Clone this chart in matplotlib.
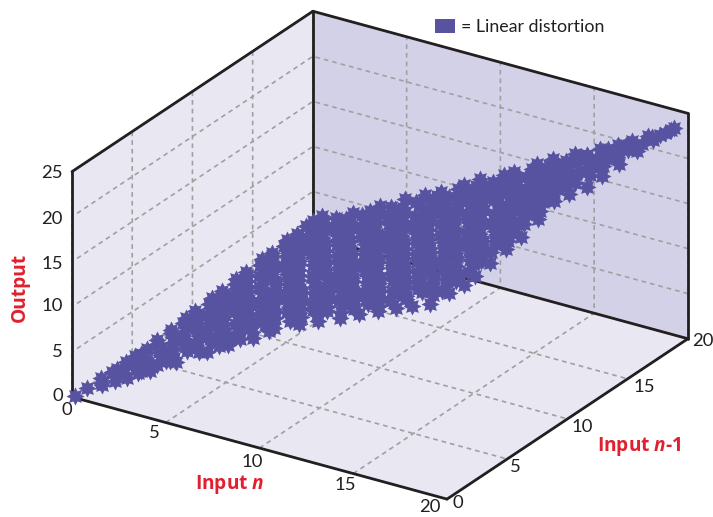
import matplotlib
matplotlib.use("Agg")
import matplotlib.pyplot as plt
from matplotlib.markers import MarkerStyle
from matplotlib.patches import Patch
from matplotlib.path import Path
from mpl_toolkits.mplot3d import proj3d

W, H = 713, 517

# Values, one source line per row of the cloud
input_n = [
    0.1,
    0.4, 1.1,
    0.7, 1.4, 2.1,
    1.1, 1.8, 2.5, 3.1,
    1.5, 2.2, 2.9, 3.7,
    1.8, 2.5, 3.2, 3.9, 4.5,
    1.9, 2.6, 3.4, 4.0, 4.7, 5.5, 6.0,
    2.2, 2.9, 3.6, 4.4, 5.0, 5.7, 6.4, 7.1, 7.7,
    2.4, 3.1, 3.8, 4.5, 5.3, 5.9, 6.6, 7.3, 8.1, 8.7, 9.4,
    2.6, 3.3, 4.0, 4.8, 5.4, 6.1, 6.8, 7.6, 8.2, 8.9, 9.6, 10.4, 11.0, 11.7, 12.4,
    2.9, 3.6, 4.3, 5.0, 5.7, 6.5, 7.1, 7.8, 8.5, 9.3, 9.9, 10.6, 11.3, 12.0, 12.8, 13.4, 14.1, 14.8,
    3.1, 3.8, 4.5, 5.2, 6.0, 6.6, 7.3, 8.0, 8.8, 9.4, 10.1, 10.8, 11.5, 12.3, 12.9, 13.6, 14.3, 15.0,
    3.3, 4.0, 4.7, 5.5, 6.1, 6.8, 7.5, 8.3, 8.9, 9.6, 10.3, 11.1, 11.7, 12.4, 13.1, 13.9, 14.5, 15.3,
    3.5, 4.3, 4.9, 5.6, 6.3, 7.1, 7.7, 8.4, 9.1, 9.9, 10.5, 11.2, 11.9, 12.7, 13.3, 14.0, 14.7, 15.5,
    3.8, 4.5, 5.2, 5.9, 6.7, 7.3, 8.0, 8.7, 9.5, 10.1, 10.8, 11.5, 12.3, 12.9, 13.6, 14.3, 15.0, 15.6,
    4.0, 4.7, 5.4, 6.2, 6.8, 7.5, 8.2, 9.0, 9.6, 10.3, 11.0, 11.8, 12.4, 13.1, 13.8, 14.6, 15.2, 15.8,
    4.2, 4.9, 5.7, 6.3, 7.0, 7.7, 8.5, 9.1, 9.8, 10.5, 11.3, 11.9, 12.6, 13.3, 14.1, 14.7, 15.4, 16.0,
    4.4, 5.1, 5.8, 6.6, 7.2, 7.9, 8.6, 9.4, 10.0, 10.7, 11.4, 12.2, 12.8, 13.5, 14.2, 15.0, 15.6, 16.1,
    4.7, 5.4, 6.1, 6.8, 7.6, 8.2, 8.9, 9.6, 10.4, 11.0, 11.7, 12.4, 13.2, 13.8, 14.5, 15.2, 16.0,
    6.5, 7.3, 7.9, 8.6, 9.3, 10.1, 10.7, 11.4, 12.1, 12.9, 13.5, 14.2, 14.9, 15.7, 16.3,
    8.7, 9.4, 10.2, 10.8, 11.5, 12.2, 13.0, 13.6, 14.3, 15.0, 15.8, 16.4,
    10.3, 11.1, 11.7, 12.4, 13.1, 13.9, 14.5, 15.2, 15.9, 16.6,
    11.8, 12.6, 13.2, 13.9, 14.7, 15.3, 16.0, 16.8,
    13.3, 14.1, 14.7, 15.4, 16.2, 17.1,
    14.8, 15.6, 16.3, 17.0, 17.8,
    16.4, 17.3, 18.2,
    18.1, 18.9,
    19.3, 19.6,
    19.9,
]
input_n1 = [
    0.1,
    0.6, 0.8,
    1.3, 1.5, 1.3,
    2.0, 2.2, 2.0, 2.2,
    2.9, 2.7, 2.9, 2.7,
    3.4, 3.6, 3.4, 3.6, 3.4,
    4.1, 4.3, 4.1, 4.3, 4.1, 4.3, 4.1,
    4.8, 5.0, 4.8, 5.0, 4.8, 5.0, 4.8, 5.0, 4.8,
    5.7, 5.5, 5.7, 5.5, 5.7, 5.5, 5.7, 5.5, 5.7, 5.5, 5.7,
    6.2, 6.4, 6.2, 6.4, 6.2, 6.4, 6.2, 6.4, 6.2, 6.4, 6.2, 6.4, 6.2, 6.4, 6.2,
    7.1, 6.9, 7.1, 6.9, 7.1, 6.9, 7.1, 6.9, 7.1, 6.9, 7.1, 6.9, 7.1, 6.9, 7.1, 6.9, 7.1, 6.9,
    7.6, 7.8, 7.6, 7.8, 7.6, 7.8, 7.6, 7.8, 7.6, 7.8, 7.6, 7.8, 7.6, 7.8, 7.6, 7.8, 7.6, 7.8,
    8.5, 8.3, 8.5, 8.3, 8.5, 8.3, 8.5, 8.3, 8.5, 8.3, 8.5, 8.3, 8.5, 8.3, 8.5, 8.3, 8.5, 8.3,
    9.0, 9.2, 9.0, 9.2, 9.0, 9.2, 9.0, 9.2, 9.0, 9.2, 9.0, 9.2, 9.0, 9.2, 9.0, 9.2, 9.0, 9.2,
    9.9, 9.7, 9.9, 9.7, 9.9, 9.7, 9.9, 9.7, 9.9, 9.7, 9.9, 9.7, 9.9, 9.7, 9.9, 9.7, 9.9, 9.7,
    10.4, 10.6, 10.4, 10.6, 10.4, 10.6, 10.4, 10.6, 10.4, 10.6, 10.4, 10.6, 10.4, 10.6, 10.4, 10.6, 10.4, 10.6,
    11.3, 11.1, 11.3, 11.1, 11.3, 11.1, 11.3, 11.1, 11.3, 11.1, 11.3, 11.1, 11.3, 11.1, 11.3, 11.1, 11.3, 11.1,
    11.8, 12.0, 11.8, 12.0, 11.8, 12.0, 11.8, 12.0, 11.8, 12.0, 11.8, 12.0, 11.8, 12.0, 11.8, 12.0, 11.8, 12.0,
    12.7, 12.5, 12.7, 12.5, 12.7, 12.5, 12.7, 12.5, 12.7, 12.5, 12.7, 12.5, 12.7, 12.5, 12.7, 12.5, 12.5,
    13.2, 13.4, 13.2, 13.4, 13.2, 13.4, 13.2, 13.4, 13.2, 13.4, 13.2, 13.4, 13.2, 13.4, 13.2,
    14.1, 13.9, 14.1, 13.9, 14.1, 13.9, 14.1, 13.9, 14.1, 13.9, 14.1, 13.9,
    14.6, 14.8, 14.6, 14.8, 14.6, 14.8, 14.6, 14.8, 14.6, 14.8,
    15.5, 15.3, 15.5, 15.3, 15.5, 15.3, 15.5, 15.3,
    16.0, 16.2, 16.0, 16.2, 16.0, 16.2,
    16.9, 16.7, 16.9, 16.7, 16.9,
    17.2, 17.6, 17.4,
    17.8, 17.9,
    18.2, 18.7,
    19.0,
]
output = [
    0.1,
    0.7, 1.2,
    1.3, 1.8, 2.1,
    1.9, 2.6, 2.8, 3.4,
    2.8, 3.0, 3.7, 4.0,
    3.3, 3.8, 4.1, 4.7, 5.0,
    3.8, 4.3, 4.7, 5.2, 5.5, 6.1, 6.3,
    4.4, 4.9, 5.3, 5.9, 6.1, 6.7, 7.0, 7.6, 7.8,
    5.1, 5.4, 5.9, 6.3, 6.9, 7.1, 7.7, 8.0, 8.6, 8.9, 9.4,
    5.5, 6.1, 6.4, 7.0, 7.3, 7.8, 8.1, 8.8, 9.0, 9.6, 9.9, 10.5, 10.8, 11.3, 11.6,
    6.3, 6.6, 7.1, 7.4, 8.0, 8.4, 8.9, 9.2, 9.8, 10.1, 10.6, 10.9, 11.5, 11.8, 12.4, 12.7, 13.3, 13.6,
    6.7, 7.3, 7.6, 8.1, 8.5, 9.0, 9.3, 9.9, 10.3, 10.8, 11.1, 11.6, 11.9, 12.6, 12.8, 13.4, 13.7, 14.3,
    7.4, 7.7, 8.3, 8.6, 9.1, 9.4, 10.0, 10.4, 10.9, 11.2, 11.8, 12.1, 12.6, 12.9, 13.5, 13.9, 14.4, 14.8,
    7.8, 8.4, 8.7, 9.3, 9.6, 10.2, 10.4, 11.0, 11.3, 11.9, 12.2, 12.8, 13.1, 13.7, 13.9, 14.5, 14.8, 15.4,
    8.6, 8.9, 9.4, 9.8, 10.4, 10.6, 11.2, 11.5, 12.1, 12.4, 12.9, 13.3, 13.9, 14.1, 14.7, 15.0, 15.6, 15.8,
    9.0, 9.6, 9.9, 10.5, 10.8, 11.3, 11.6, 12.3, 12.5, 13.1, 13.4, 14.0, 14.3, 14.8, 15.1, 15.8, 16.0, 16.5,
    9.7, 10.0, 10.6, 10.9, 11.4, 11.8, 12.4, 12.6, 13.2, 13.5, 14.1, 14.4, 14.9, 15.3, 15.9, 16.1, 16.7, 16.9,
    10.1, 10.7, 11.0, 11.6, 11.9, 12.4, 12.8, 13.4, 13.6, 14.2, 14.5, 15.1, 15.4, 15.9, 16.3, 16.9, 17.1, 17.6,
    10.9, 11.2, 11.8, 12.1, 12.7, 12.9, 13.5, 13.8, 14.4, 14.7, 15.3, 15.6, 16.2, 16.4, 17.0, 17.3, 17.8,
    12.3, 12.9, 13.2, 13.8, 14.1, 14.7, 14.9, 15.5, 15.8, 16.4, 16.7, 17.3, 17.6, 18.2, 18.4,
    14.3, 14.6, 15.2, 15.4, 16.0, 16.3, 16.9, 17.2, 17.8, 18.1, 18.7, 18.9,
    15.6, 16.2, 16.4, 17.0, 17.3, 17.9, 18.2, 18.8, 19.1, 19.6,
    17.1, 17.4, 17.9, 18.3, 18.9, 19.1, 19.7, 20.1,
    18.3, 18.9, 19.2, 19.8, 20.1, 20.8,
    19.8, 20.2, 20.8, 21.1, 21.7,
    20.8, 21.7, 22.3,
    22.4, 22.9,
    23.2, 23.8,
    24.2,
]

# Second batch of stars, between the rows above, last lines along the lower edge
input_n_b = [
    0.9, 1.6,
    1.0, 1.7, 2.5,
    1.3, 2.2, 2.8, 3.4,
    1.7, 2.6, 3.2, 4.1,
    2.1, 2.9, 3.6, 4.2, 5.0,
    2.3, 3.0, 3.8, 4.3, 5.1, 5.9, 6.7,
    2.5, 3.4, 3.9, 4.7, 5.4, 6.2, 6.8, 7.4, 8.2, 8.7,
    2.8, 3.4, 4.2, 4.8, 5.6, 6.3, 6.9, 7.7, 8.4, 9.0, 9.8, 10.6, 11.2,
    3.0, 3.7, 4.3, 5.2, 5.8, 6.4, 7.2, 7.9, 8.6, 9.2, 10.0, 10.7, 11.4, 12.0, 12.8, 13.5,
    3.3, 3.9, 4.7, 5.4, 6.0, 6.8, 7.5, 8.2, 8.8, 9.6, 10.3, 10.9, 11.6, 12.4, 13.1, 13.7, 14.5, 15.1,
    3.5, 4.2, 4.9, 5.7, 6.4, 7.0, 7.7, 8.5, 9.1, 9.8, 10.6, 11.3, 11.9, 12.7, 13.3, 14.1, 14.8, 15.4,
    3.7, 4.4, 5.2, 5.8, 6.5, 7.3, 7.9, 8.6, 9.4, 10.0, 10.7, 11.5, 12.1, 12.8, 13.6, 14.2, 14.9, 15.6,
    3.9, 4.7, 5.3, 6.0, 6.8, 7.4, 8.1, 8.9, 9.5, 10.2, 11.0, 11.6, 12.3, 13.1, 13.7, 14.4, 15.2, 15.7,
    4.1, 4.9, 5.6, 6.2, 7.0, 7.7, 8.3, 9.1, 9.8, 10.4, 11.2, 11.9, 12.5, 13.3, 14.0, 14.6, 15.4, 15.9,
    4.3, 5.1, 5.7, 6.5, 7.2, 7.8, 8.6, 9.3, 9.9, 10.7, 11.4, 12.0, 12.8, 13.5, 14.1, 14.9, 15.6, 16.1,
    4.6, 5.2, 6.0, 6.7, 7.3, 8.1, 8.8, 9.4, 10.2, 10.9, 11.5, 12.3, 13.0, 13.6, 14.4, 15.1, 15.7, 16.2,
    4.6, 5.5, 6.1, 6.9, 7.5, 8.2, 9.0, 9.7, 10.3, 11.1, 11.8, 12.4, 13.2, 13.9, 14.5, 15.3, 16.0,
    5.0, 5.8, 6.4, 7.1, 7.9, 8.6, 9.2, 10.0, 10.7, 11.3, 12.1, 12.8, 13.4, 14.2, 14.9, 15.5, 16.2,
    7.6, 8.3, 9.0, 9.7, 10.4, 11.0, 11.8, 12.5, 13.1, 13.9, 14.6, 15.2, 16.0, 16.4,
    9.6, 10.3, 11.0, 11.6, 12.4, 13.1, 13.7, 14.5, 15.2, 15.8, 16.5,
    11.2, 11.9, 12.7, 13.3, 14.0, 14.8, 15.5, 16.1, 16.8,
    12.9, 13.5, 14.2, 15.0, 15.7, 16.3, 17.0,
    14.2, 14.9, 15.6, 16.3, 17.1, 17.6,
    15.8, 16.5, 17.3, 18.0,
    16.9, 17.7, 18.4,
    18.3, 18.9,
    19.4, 19.8,
    2.5, 3.6, 4.8, 5.6, 6.4, 7.6, 8.9, 9.8, 10.8, 11.7, 12.6, 13.4, 14.2, 15.1,
    15.6, 16.0, 16.2, 16.4, 16.6, 16.8, 16.9, 16.9, 17.4, 18.0, 18.3, 18.7, 19.0, 19.2,
    17.2, 17.6, 17.9, 18.2, 18.5, 16.8, 17.3, 17.6, 16.6, 16.4, 16.3, 15.8,
    3.0, 4.0, 5.2, 6.0, 7.0,
]
input_n1_b = [
    1.0, 1.1,
    1.8, 1.7, 1.6,
    2.5, 2.4, 2.3, 2.5,
    3.1, 3.2, 3.0, 3.2,
    3.8, 3.9, 3.7, 3.9, 3.8,
    4.6, 4.4, 4.6, 4.5, 4.4, 4.6, 4.5,
    5.3, 5.1, 5.3, 5.2, 5.1, 5.3, 5.2, 5.1, 5.3, 5.2,
    6.0, 5.9, 5.8, 6.0, 5.9, 5.8, 6.0, 5.9, 5.8, 6.0, 5.9, 5.8, 6.0,
    6.7, 6.6, 6.5, 6.7, 6.6, 6.5, 6.7, 6.6, 6.5, 6.7, 6.6, 6.5, 6.7, 6.6, 6.5, 6.7,
    7.4, 7.3, 7.2, 7.4, 7.3, 7.2, 7.4, 7.3, 7.2, 7.4, 7.3, 7.2, 7.4, 7.3, 7.2, 7.4, 7.3, 7.2,
    8.1, 8.0, 7.9, 8.1, 8.0, 7.9, 8.1, 8.0, 7.9, 8.1, 8.0, 7.9, 8.1, 8.0, 7.9, 8.1, 8.0, 7.9,
    8.8, 8.7, 8.6, 8.8, 8.7, 8.6, 8.8, 8.7, 8.6, 8.8, 8.7, 8.6, 8.8, 8.7, 8.6, 8.8, 8.7, 8.6,
    9.5, 9.4, 9.3, 9.5, 9.4, 9.3, 9.5, 9.4, 9.3, 9.5, 9.4, 9.3, 9.5, 9.4, 9.3, 9.5, 9.4, 9.3,
    10.2, 10.1, 10.0, 10.2, 10.1, 10.0, 10.2, 10.1, 10.0, 10.2, 10.1, 10.0, 10.2, 10.1, 10.0, 10.2, 10.1, 10.0,
    10.9, 10.8, 10.7, 10.9, 10.8, 10.7, 10.9, 10.8, 10.7, 10.9, 10.8, 10.7, 10.9, 10.8, 10.7, 10.9, 10.8, 10.7,
    11.6, 11.5, 11.4, 11.6, 11.5, 11.4, 11.6, 11.5, 11.4, 11.6, 11.5, 11.4, 11.6, 11.5, 11.4, 11.6, 11.5, 11.4,
    12.3, 12.2, 12.1, 12.3, 12.2, 12.1, 12.3, 12.2, 12.1, 12.3, 12.2, 12.1, 12.3, 12.2, 12.1, 12.3, 12.2,
    13.0, 12.9, 12.8, 13.0, 12.9, 12.8, 13.0, 12.9, 12.8, 13.0, 12.9, 12.8, 13.0, 12.9, 12.8, 13.0, 12.9,
    13.7, 13.6, 13.5, 13.7, 13.6, 13.5, 13.7, 13.6, 13.5, 13.7, 13.6, 13.5, 13.7, 13.6,
    14.4, 14.3, 14.2, 14.4, 14.3, 14.2, 14.4, 14.3, 14.2, 14.4, 14.3,
    15.1, 15.0, 14.9, 15.1, 15.0, 14.9, 15.1, 15.0, 14.9,
    15.8, 15.7, 15.6, 15.8, 15.7, 15.6, 15.8,
    16.5, 16.4, 16.3, 16.5, 16.4, 16.3,
    17.2, 17.1, 17.0, 17.2,
    17.5, 17.8, 17.7,
    18.0, 18.4,
    18.6, 18.9,
    1.8, 2.5, 3.1, 3.5, 4.0, 4.5, 5.0, 5.2, 5.4, 5.6, 5.8, 6.0, 6.1, 6.2,
    7.0, 7.6, 8.2, 9.2, 10.2, 11.1, 12.4, 13.7, 14.2, 14.7, 15.5, 16.3, 17.3, 18.3,
    15.0, 15.6, 16.2, 16.9, 17.4, 15.4, 16.2, 16.9, 13.0, 12.0, 10.8, 9.4,
    1.8, 2.4, 3.1, 3.6, 4.1,
]
output_b = [
    1.2, 1.7,
    1.7, 2.1, 2.6,
    2.4, 2.9, 3.2, 3.7,
    3.0, 3.6, 3.9, 4.6,
    3.7, 4.2, 4.6, 5.1, 5.5,
    4.3, 4.6, 5.3, 5.5, 5.9, 6.5, 7.0,
    4.9, 5.3, 5.7, 6.2, 6.6, 7.2, 7.5, 7.8, 8.4, 8.7,
    5.5, 5.8, 6.2, 6.8, 7.2, 7.6, 8.1, 8.5, 8.9, 9.4, 9.8, 10.3, 10.8,
    6.1, 6.4, 6.8, 7.4, 7.8, 8.1, 8.7, 9.1, 9.4, 10.0, 10.4, 10.7, 11.3, 11.6, 12.1, 12.6,
    6.7, 7.0, 7.4, 8.0, 8.3, 8.8, 9.3, 9.7, 10.0, 10.6, 11.0, 11.3, 11.9, 12.3, 12.7, 13.2, 13.6, 13.9,
    7.3, 7.6, 8.0, 8.6, 9.0, 9.3, 9.9, 10.3, 10.6, 11.2, 11.6, 12.0, 12.5, 12.9, 13.3, 13.9, 14.3, 14.6,
    7.8, 8.2, 8.6, 9.1, 9.5, 9.9, 10.4, 10.8, 11.3, 11.8, 12.1, 12.6, 13.1, 13.4, 13.9, 14.4, 14.8, 15.1,
    8.4, 8.8, 9.1, 9.7, 10.1, 10.4, 11.0, 11.4, 11.8, 12.3, 12.8, 13.1, 13.6, 14.1, 14.4, 14.9, 15.4, 15.6,
    8.9, 9.4, 9.8, 10.3, 10.7, 11.1, 11.6, 12.0, 12.4, 12.9, 13.3, 13.7, 14.2, 14.6, 15.0, 15.5, 15.9, 16.2,
    9.5, 9.9, 10.3, 10.9, 11.3, 11.6, 12.2, 12.6, 12.9, 13.5, 13.9, 14.2, 14.8, 15.2, 15.5, 16.1, 16.5, 16.8,
    10.1, 10.4, 10.9, 11.4, 11.8, 12.2, 12.8, 13.1, 13.5, 14.1, 14.4, 14.8, 15.4, 15.7, 16.1, 16.7, 17.0, 17.3,
    10.6, 11.1, 11.4, 12.0, 12.3, 12.7, 13.3, 13.7, 14.0, 14.6, 15.0, 15.3, 15.9, 16.3, 16.6, 17.3, 17.6,
    11.3, 11.7, 12.0, 12.6, 13.0, 13.4, 13.9, 14.3, 14.7, 15.2, 15.6, 16.0, 16.5, 16.9, 17.3, 17.8, 18.2,
    13.3, 13.7, 14.1, 14.6, 15.0, 15.3, 15.9, 16.3, 16.6, 17.3, 17.6, 17.9, 18.6, 18.8,
    15.0, 15.4, 15.8, 16.3, 16.7, 17.1, 17.6, 18.0, 18.4, 18.9, 19.3,
    16.4, 16.8, 17.3, 17.8, 18.1, 18.6, 19.1, 19.4, 19.8,
    17.9, 18.3, 18.6, 19.3, 19.6, 19.9, 20.5,
    19.2, 19.6, 19.9, 20.5, 20.9, 21.2,
    20.6, 21.0, 21.4, 22.0,
    21.5, 22.2, 22.6,
    22.7, 23.3,
    23.5, 24.0,
    2.7, 3.8, 4.9, 5.7, 6.5, 7.6, 8.7, 9.4, 10.1, 10.8, 11.5, 12.1, 12.7, 13.3,
    14.1, 14.7, 15.3, 16.0, 16.7, 17.4, 18.3, 19.1, 19.7, 20.4, 21.1, 21.9, 22.7, 23.4,
    20.1, 20.7, 21.3, 21.9, 22.4, 20.1, 20.9, 21.5, 18.5, 17.8, 16.9, 15.7,
    3.0, 4.0, 5.2, 6.0, 6.9,
]

xy_ticks = [0, 5, 10, 15, 20]
z_ticks = [0, 5, 10, 15, 20, 25]

DARK = "#231F20"
RED = "#E0202E"
BLUE = "#5753A1"

plt.rcParams["font.family"] = "Lato"
plt.rcParams["mathtext.fontset"] = "custom"
plt.rcParams["mathtext.bf"] = "Open Sans:bold"
plt.rcParams["mathtext.bfit"] = "Open Sans:italic:bold"
plt.rcParams["grid.color"] = "#A0A0A0"
plt.rcParams["grid.linewidth"] = 1.2
plt.rcParams["grid.linestyle"] = (0, (2.8, 2.4))

fig = plt.figure(figsize=(W / 100, H / 100), dpi=100)
# oversized square axes so that nothing is clipped, moved into place below
ax = fig.add_axes([0, 0, 900 / W, 900 / H], projection="3d", proj_type="ortho")
ax.view_init(elev=25.2, azim=-57.4)
ax.computed_zorder = False
ax.patch.set_visible(False)

ax.set_xlim(0, 20, view_margin=0)
ax.set_ylim(0, 20, view_margin=0)
ax.set_zlim(0, 25, view_margin=0)
ax.set_xticks(xy_ticks)
ax.set_yticks(xy_ticks)
ax.set_zticks(z_ticks)
ax.set_xticklabels([])
ax.set_yticklabels([])
ax.set_zticklabels([])

ax.xaxis.set_pane_color("#E9E7F2")
ax.zaxis.set_pane_color("#E9E7F2")
ax.yaxis.set_pane_color("#D3D1E8")
for axis in (ax.xaxis, ax.yaxis, ax.zaxis):
    axis.pane.set_edgecolor("none")
    axis.line.set_color("none")
    axis._axinfo["tick"].update(inward_factor=0, outward_factor=0)

# frame of the box
edges = [
    ([0, 0], [0, 0], [0, 25]),
    ([0, 0], [0, 20], [25, 25]),
    ([0, 0], [20, 20], [0, 25]),
    ([0, 20], [20, 20], [25, 25]),
    ([20, 20], [20, 20], [0, 25]),
    ([0, 20], [20, 20], [0, 0]),
    ([0, 20], [0, 0], [0, 0]),
    ([20, 20], [0, 20], [0, 0]),
]
for ex, ey, ez in edges:
    ax.plot(ex, ey, ez, color=DARK, lw=2.0, zorder=1, solid_capstyle="round")

star = MarkerStyle(Path.unit_regular_star(8, 0.6))
ax.scatter(input_n + input_n_b, input_n1 + input_n1_b, output + output_b, marker=star,
           s=170, c=BLUE, linewidths=0, depthshade=False, zorder=5)


def to_px(x, y, z):
    px, py, _ = proj3d.proj_transform(x, y, z, ax.get_proj())
    return ax.transData.transform((px, py))


# fit the box on the reference: origin at (72, 397), n = 20 corner 375 px right of it
ax.set_box_aspect((445, 447, 249))
ax.apply_aspect()
span = to_px(20, 0, 0)[0] - to_px(0, 0, 0)[0]
ax.set_box_aspect((445, 447, 249), zoom=375 / span)
ax.apply_aspect()
ox, oy = to_px(0, 0, 0)
ax.set_position([(72 - ox) / W, ((H - 397) - oy) / H, 900 / W, 900 / H])
ax.apply_aspect()


def tick_text(value, xyz, dx, dy, ha="center"):
    # tick label next to its place on the axis, offsets in pixels, y pointing down
    px, py = to_px(*xyz)
    fig.text((px + dx) / W, (py - dy) / H, str(value), color=DARK, fontsize=13.3,
             ha=ha, va="center")


x_offsets = [(-5, 13), (-11, 10.5), (-7.5, 14), (-8, 11.5), (-17, 8)]
y_offsets = [(11, 4), (8, 8), (14.5, 8.5), (17, 8), (15, 2)]
z_offsets = [-1, 0, -1, 2, 2, 1]
for t, (dx, dy) in zip(xy_ticks, x_offsets):
    tick_text(t, (t, 0, 0), dx, dy)
for t, (dx, dy) in zip(xy_ticks, y_offsets):
    tick_text(t, (20, t, 0), dx, dy)
for t, dy in zip(z_ticks, z_offsets):
    tick_text(t, (0, 0, t), -9, dy, ha="right")

label_font = dict(color=RED, fontsize=13.8, family="Open Sans", fontweight="bold",
                  va="center", ha="center")
fig.text(20 / W, 1 - 287 / H, "Output", rotation=90, **label_font)
fig.text(230 / W, 1 - 484 / H, r"Input $\mathbfit{n}$", **label_font)
fig.text(639 / W, 1 - 446 / H, r"Input $\mathbfit{n}$-1", **label_font)

fig.legend(handles=[Patch(color=BLUE, linewidth=0)], labels=["= Linear distortion"],
           loc="center left", bbox_to_anchor=(435 / W, 1 - 27 / H), frameon=False,
           fontsize=12.8, labelcolor=DARK, handlelength=1.1, handleheight=0.8,
           handletextpad=0.35, borderpad=0, borderaxespad=0)

fig.savefig("out.png", dpi=100)
